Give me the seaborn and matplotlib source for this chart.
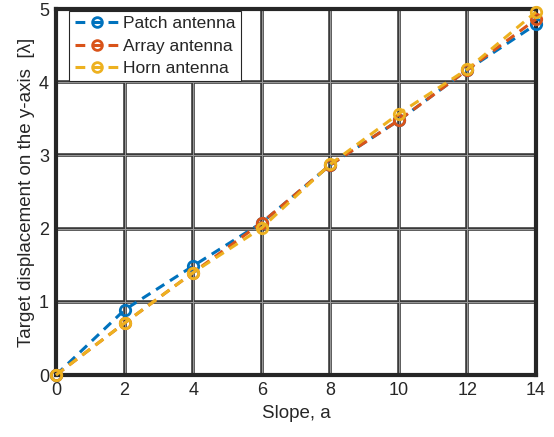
import matplotlib
matplotlib.use("Agg")
import matplotlib.pyplot as plt
from matplotlib.lines import Line2D
import numpy as np
import pandas as pd
import seaborn as sns

# Slope values and target displacement (in wavelengths) per antenna type
slope = [0, 2, 4, 6, 8, 10, 12, 14]
patch = [0.0, 0.89, 1.49, 2.08, 2.87, 3.48, 4.17, 4.79]
array = [0.0, 0.71, 1.40, 2.08, 2.87, 3.48, 4.17, 4.86]
horn = [0.0, 0.71, 1.40, 2.01, 2.88, 3.57, 4.18, 4.96]
series_names = ["Patch antenna", "Array antenna", "Horn antenna"]
x_ticks = [0, 2, 4, 6, 8, 10, 12, 14]
y_ticks = [0, 1, 2, 3, 4, 5]

colors = ["#0072BD", "#D95319", "#EDB120"]
dash = (0, (3.2, 2.2))

df = pd.DataFrame({
    "Slope": slope * 3,
    "Displacement": patch + array + horn,
    "Antenna": sum([[n] * len(slope) for n in series_names], []),
})

sns.set_theme(style="white")
plt.rcParams["font.family"] = ["Liberation Sans", "DejaVu Sans"]

fig = plt.figure(figsize=(5.54, 4.37), dpi=100)
ax = fig.add_axes([56 / 554, 1 - 375 / 437, 480 / 554, 366 / 437])

sns.lineplot(
    data=df, x="Slope", y="Displacement", hue="Antenna",
    palette=colors, hue_order=series_names, ax=ax,
    linestyle=dash, linewidth=2.2,
    marker="o", markersize=7.5, markerfacecolor="none",
    markeredgewidth=2.0, zorder=5, legend=False,
)
for line, c in zip(ax.get_lines(), colors):
    line.set_markeredgecolor(c)
    line.set_markerfacecolor("none")
    line.set_clip_on(False)

ax.set_xlim(0, 14)
ax.set_ylim(0, 5)
ax.set_xticks(x_ticks)
ax.set_yticks(y_ticks)
ax.tick_params(axis="both", labelsize=13, colors="#262626", direction="in",
               length=3, width=1, pad=5)

# Heavy grid with a lighter core
ax.grid(True, color="#3a3a3a", linewidth=2.6, zorder=0)
for v in x_ticks[1:-1]:
    ax.axvline(v, color="#9a9a9a", linewidth=0.7, zorder=1)
for v in y_ticks[1:-1]:
    ax.axhline(v, color="#9a9a9a", linewidth=0.7, zorder=1)
ax.set_axisbelow(True)

for s in ax.spines.values():
    s.set_color("#262626")
    s.set_linewidth(3.0)
    s.set_visible(True)

ax.set_xlabel("Slope, a", fontsize=13.5, color="#262626", labelpad=4)
ax.set_ylabel("Target displacement on the y-axis  [λ]", fontsize=13.5,
              color="#262626", labelpad=3)

handles = [
    Line2D([], [], color=c, linestyle=dash, linewidth=2.2, marker="o",
           markersize=7, markerfacecolor="none", markeredgecolor=c,
           markeredgewidth=2.0)
    for c in colors
]
leg = ax.legend(handles, series_names, loc="upper left",
                bbox_to_anchor=(0.028, 0.995),
                fontsize=12.5, frameon=True, fancybox=False, handlelength=2.6,
                handletextpad=0.2, borderpad=0.3, labelspacing=0.42,
                borderaxespad=0.0)
leg.get_frame().set_edgecolor("#262626")
leg.get_frame().set_linewidth(0.8)
leg.get_frame().set_alpha(1)
leg.set_zorder(10)

fig.savefig("out.png", dpi=100)
